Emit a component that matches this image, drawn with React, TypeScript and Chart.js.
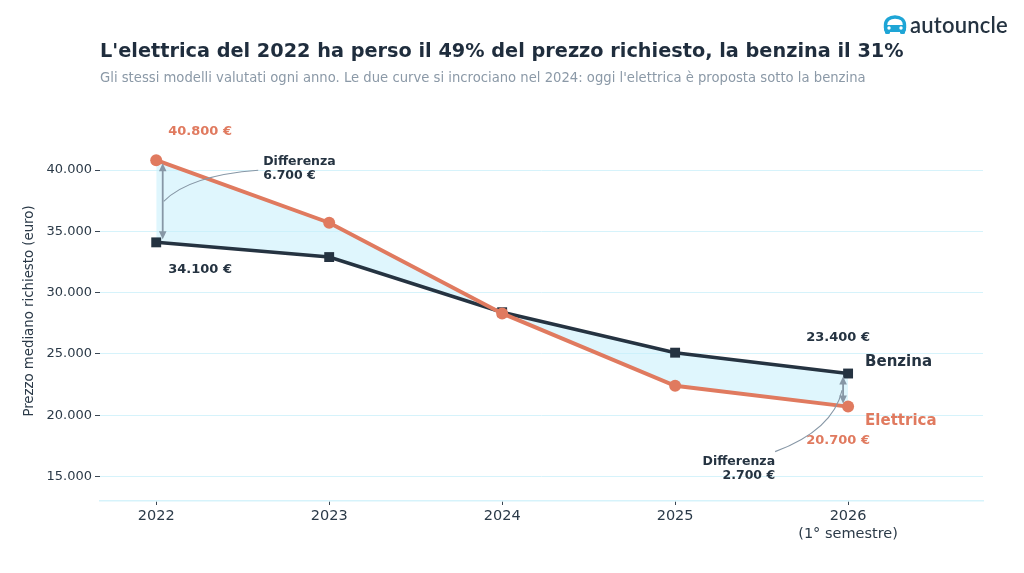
import React, { useEffect, useRef } from "react";
import { Chart, registerables } from "chart.js";

Chart.register(...registerables);

const years = [2022, 2023, 2024, 2025, 2026];
const elettrica = [40800, 35700, 28300, 22400, 20700];
const benzina = [34100, 32900, 28400, 25100, 23400];
const yTicks = [15000, 20000, 25000, 30000, 35000, 40000];
const xLabels: Record<number, string | string[]> = {
  2022: "2022",
  2023: "2023",
  2024: "2024",
  2025: "2025",
  2026: ["2026", "(1° semestre)"],
};

const TITLE = "L'elettrica del 2022 ha perso il 49% del prezzo richiesto, la benzina il 31%";
const SUBTITLE =
  "Gli stessi modelli valutati ogni anno. Le due curve si incrociano nel 2024: oggi l'elettrica è proposta sotto la benzina";

const ORANGE = "#E07A5F";
const NAVY = "#253341";
const GRID = "#d6f3fb";
const ARROW = "#8797a6";
const FONT = '"DejaVu Sans", sans-serif';

const fmt = (v: number) => v.toLocaleString("de-DE") + " €";

function drawArrow(ctx: CanvasRenderingContext2D, x: number, y1: number, y2: number) {
  ctx.save();
  ctx.strokeStyle = ARROW;
  ctx.fillStyle = ARROW;
  ctx.lineWidth = 1.8;
  ctx.beginPath();
  ctx.moveTo(x, y1 + 4);
  ctx.lineTo(x, y2 - 4);
  ctx.stroke();
  const h = 8, w = 3.8;
  ctx.beginPath();
  ctx.moveTo(x, y1);
  ctx.lineTo(x - w, y1 + h);
  ctx.lineTo(x + w, y1 + h);
  ctx.closePath();
  ctx.fill();
  ctx.beginPath();
  ctx.moveTo(x, y2);
  ctx.lineTo(x - w, y2 - h);
  ctx.lineTo(x + w, y2 - h);
  ctx.closePath();
  ctx.fill();
  ctx.restore();
}

const annotationPlugin = {
  id: "annotations",
  afterDraw(chart: any) {
    const ctx: CanvasRenderingContext2D = chart.ctx;
    const xs = chart.scales.x;
    const ys = chart.scales.y;
    ctx.save();
    // title & subtitle
    ctx.textBaseline = "alphabetic";
    ctx.textAlign = "left";
    ctx.fillStyle = "#1f2d3d";
    ctx.font = `bold 19.3px ${FONT}`;
    ctx.fillText(TITLE, 100, 57);
    ctx.fillStyle = "#8b99a7";
    ctx.font = `13.2px ${FONT}`;
    ctx.fillText(SUBTITLE, 100, 82);

    const n = years.length - 1;
    const x0 = xs.getPixelForValue(years[0]);
    const xn = xs.getPixelForValue(years[n]);
    const e0 = ys.getPixelForValue(elettrica[0]);
    const b0 = ys.getPixelForValue(benzina[0]);
    const en = ys.getPixelForValue(elettrica[n]);
    const bn = ys.getPixelForValue(benzina[n]);

    // value labels
    ctx.textBaseline = "middle";
    ctx.font = `bold 13px ${FONT}`;
    ctx.fillStyle = ORANGE;
    ctx.textAlign = "left";
    ctx.fillText(fmt(elettrica[0]), x0 + 12, e0 - 29);
    ctx.fillStyle = NAVY;
    ctx.fillText(fmt(benzina[0]), x0 + 12, b0 + 27);
    ctx.textAlign = "center";
    ctx.fillText(fmt(benzina[n]), xn - 10, bn - 36);
    ctx.fillStyle = ORANGE;
    ctx.fillText(fmt(elettrica[n]), xn - 10, en + 34);

    // series names
    ctx.textAlign = "left";
    ctx.font = `bold 15px ${FONT}`;
    ctx.fillStyle = NAVY;
    ctx.fillText("Benzina", xn + 17, bn - 11);
    ctx.fillStyle = ORANGE;
    ctx.fillText("Elettrica", xn + 17, en + 14);

    // arrows
    const ax0 = x0 + 6.5;
    const axn = xn - 5;
    drawArrow(ctx, ax0, e0 + 3, b0 - 3);
    drawArrow(ctx, axn, bn + 3, en - 3);

    // connectors
    const m0 = (e0 + b0) / 2;
    const mn = (en + bn) / 2;
    const l1x = x0 + 107;
    const l1y = e0 + 2;
    ctx.strokeStyle = ARROW;
    ctx.lineWidth = 1.1;
    ctx.beginPath();
    ctx.moveTo(ax0 + 1, m0);
    ctx.quadraticCurveTo(ax0 + 27, m0 - 26, l1x - 5, l1y + 8);
    ctx.stroke();
    const l2x = xn - 73;
    const l2y = en + 55;
    ctx.beginPath();
    ctx.moveTo(axn - 1, mn);
    ctx.quadraticCurveTo(axn - 10, mn + 40, l2x, l2y - 10);
    ctx.stroke();

    ctx.font = `bold 12.5px ${FONT}`;
    ctx.fillStyle = NAVY;
    ctx.textAlign = "left";
    ctx.fillText("Differenza", l1x, l1y);
    ctx.fillText(fmt(elettrica[0] - benzina[0]), l1x, l1y + 14);
    ctx.textAlign = "right";
    ctx.fillText("Differenza", l2x, l2y);
    ctx.fillText(fmt(benzina[n] - elettrica[n]), l2x, l2y + 14);
    ctx.restore();
  },
};

export default function App() {
  const ref = useRef<HTMLCanvasElement>(null);
  useEffect(() => {
    if (!ref.current) return;
    const chart = new Chart(ref.current, {
      type: "line",
      data: {
        datasets: [
          {
            label: "Elettrica",
            data: years.map((x, i) => ({ x, y: elettrica[i] })),
            borderColor: ORANGE,
            backgroundColor: ORANGE,
            borderWidth: 4,
            pointStyle: "circle",
            pointRadius: 6,
            pointBorderWidth: 0,
            fill: { target: 1, above: "rgba(196,238,252,0.55)", below: "rgba(196,238,252,0.55)" },
          },
          {
            label: "Benzina",
            data: years.map((x, i) => ({ x, y: benzina[i] })),
            borderColor: NAVY,
            backgroundColor: NAVY,
            borderWidth: 3.5,
            pointStyle: "rect",
            pointRadius: 7,
            pointBorderWidth: 0,
            fill: false,
          },
        ],
      },
      options: {
        animation: false,
        responsive: false,
        layout: { padding: { left: 20, right: 41, top: 121, bottom: 22 } },
        plugins: {
          legend: { display: false },
          tooltip: { enabled: false },
          filler: { drawTime: "beforeDatasetsDraw" },
        } as any,
        scales: {
          x: {
            type: "linear",
            min: 2021.675,
            max: 2026.78,
            afterBuildTicks: (s: any) => {
              s.ticks = years.map((v) => ({ value: v }));
            },
            afterFit: (s: any) => {
              s.height = 50;
            },
            ticks: {
              callback: (v: any) => xLabels[v as number] ?? "",
              color: "#2b3a48",
              font: { family: FONT, size: 14.5 },
              padding: 3,
              maxRotation: 0,
              autoSkip: false,
            },
            grid: {
              drawOnChartArea: false,
              drawTicks: true,
              tickLength: 4,
              tickColor: "#3a4653",
              color: GRID,
            },
            border: { display: true, color: GRID, width: 1.5 },
          },
          y: {
            min: 13000,
            max: 44000,
            afterBuildTicks: (s: any) => {
              s.ticks = yTicks.map((v) => ({ value: v }));
            },
            afterFit: (s: any) => {
              s.width = 80;
            },
            ticks: {
              callback: (v: any) => Number(v).toLocaleString("de-DE"),
              color: "#2b3a48",
              font: { family: FONT, size: 13 },
              padding: 3,
            },
            grid: {
              color: GRID,
              lineWidth: 1,
              drawTicks: true,
              tickLength: 5,
              tickColor: "#3a4653",
            },
            border: { display: false },
            title: {
              display: true,
              text: "Prezzo mediano richiesto (euro)",
              color: "#2b3a48",
              font: { family: FONT, size: 13.3 },
              padding: { top: 2, bottom: 0 },
            },
          },
        },
      },
      plugins: [annotationPlugin],
    });
    return () => chart.destroy();
  }, []);

  return (
    <div style={{ position: "absolute", left: 0, top: 0, width: 1024, height: 573, background: "#fff" }}>
      <canvas ref={ref} width={1024} height={573} style={{ width: 1024, height: 573, display: "block" }} />
      <div
        style={{
          position: "absolute",
          left: 883,
          top: 13,
          display: "flex",
          alignItems: "center",
          gap: 3,
        }}
      >
        <svg width="24" height="20" viewBox="0 0 24 20">
          <path
            d="M2.5 13 V10 C2.5 5 6.5 2 12 2 C17.5 2 21.5 5 21.5 10 V13"
            fill="none"
            stroke="#1ea5d6"
            strokeWidth="3.4"
            strokeLinecap="round"
          />
          <path d="M1 10 H23 V15 Q23 17 21 17 H3 Q1 17 1 15 Z" fill="#1ea5d6" />
          <circle cx="6" cy="13" r="1.7" fill="#fff" />
          <circle cx="18" cy="13" r="1.7" fill="#fff" />
          <rect x="2" y="15" width="5" height="4" rx="1.5" fill="#1ea5d6" />
          <rect x="17" y="15" width="5" height="4" rx="1.5" fill="#1ea5d6" />
        </svg>
        <span
          style={{
            fontFamily: "Lato, 'Noto Sans', sans-serif",
            fontSize: 22,
            fontWeight: 600,
            color: NAVY,
            letterSpacing: 0.2,
            lineHeight: "24px",
          }}
        >
          autouncle
        </span>
      </div>
    </div>
  );
}
